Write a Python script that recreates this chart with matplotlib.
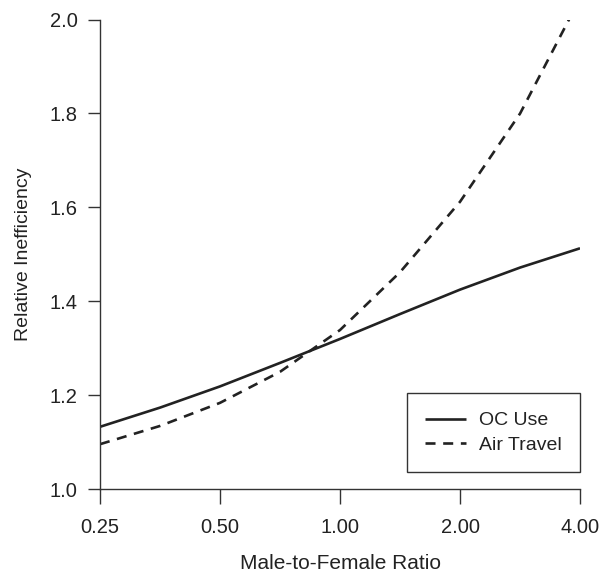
import matplotlib
matplotlib.use("Agg")
import matplotlib.pyplot as plt
from matplotlib.ticker import FixedLocator, NullLocator

plt.rcParams['font.family'] = ['Liberation Sans', 'DejaVu Sans']

ratio = [0.25, 0.354, 0.5, 0.707, 1.0, 1.414, 2.0, 2.83, 4.0]
oc_use = [1.133, 1.174, 1.219, 1.269, 1.320, 1.373, 1.425, 1.472, 1.513]
air_travel = [1.096, 1.135, 1.184, 1.250, 1.339, 1.462, 1.612, 1.800, 2.045]
x_ticks = [0.25, 0.5, 1.0, 2.0, 4.0]
x_ticklabels = ["0.25", "0.50", "1.00", "2.00", "4.00"]
y_ticks = [1.0, 1.2, 1.4, 1.6, 1.8, 2.0]
y_ticklabels = ["1.0", "1.2", "1.4", "1.6", "1.8", "2.0"]

ink = "#222222"

fig = plt.figure(figsize=(6.05, 5.72), dpi=100)
ax = fig.add_axes([0.1653, 0.1446, 0.7934, 0.8213])

ax.plot(ratio, oc_use, color=ink, lw=1.9, solid_capstyle='butt', label="OC Use")
ax.plot(ratio, air_travel, color=ink, lw=1.9, dashes=(3.8, 2.9), label="Air Travel")

ax.set_xscale('log', base=2)
ax.set_xlim(0.25, 4.0)
ax.set_ylim(1.0, 2.0)
ax.xaxis.set_major_locator(FixedLocator(x_ticks))
ax.xaxis.set_minor_locator(NullLocator())
ax.set_xticklabels(x_ticklabels)
ax.set_yticks(y_ticks)
ax.set_yticklabels(y_ticklabels)

for s in ['top', 'right']:
    ax.spines[s].set_visible(False)
for s in ['left', 'bottom']:
    ax.spines[s].set_color("#333333")
    ax.spines[s].set_linewidth(1.0)

ax.tick_params(axis='x', direction='out', length=10.5, width=1.0, color="#333333",
               pad=10, labelsize=14.5, labelcolor=ink)
ax.tick_params(axis='y', direction='out', length=9, width=1.0, color="#333333",
               pad=7, labelsize=14.5, labelcolor=ink)

fig.text((100 + 580) / 2 / 605, 3 / 572, "Male-to-Female Ratio", fontsize=15,
         color=ink, ha='center', va='baseline')
ax.set_ylabel("Relative Inefficiency", fontsize=14, color=ink, labelpad=13)

leg = ax.legend(loc='lower right', bbox_to_anchor=(1.0, 0.036), borderaxespad=0,
                fontsize=14, frameon=True, fancybox=False, handlelength=2.1,
                handletextpad=0.65, borderpad=0.95, labelspacing=0.35)
leg.get_frame().set_edgecolor("#333333")
leg.get_frame().set_linewidth(1.0)
leg.get_frame().set_alpha(1)
for t in leg.get_texts():
    t.set_color(ink)

fig.savefig("out.png", dpi=100)
